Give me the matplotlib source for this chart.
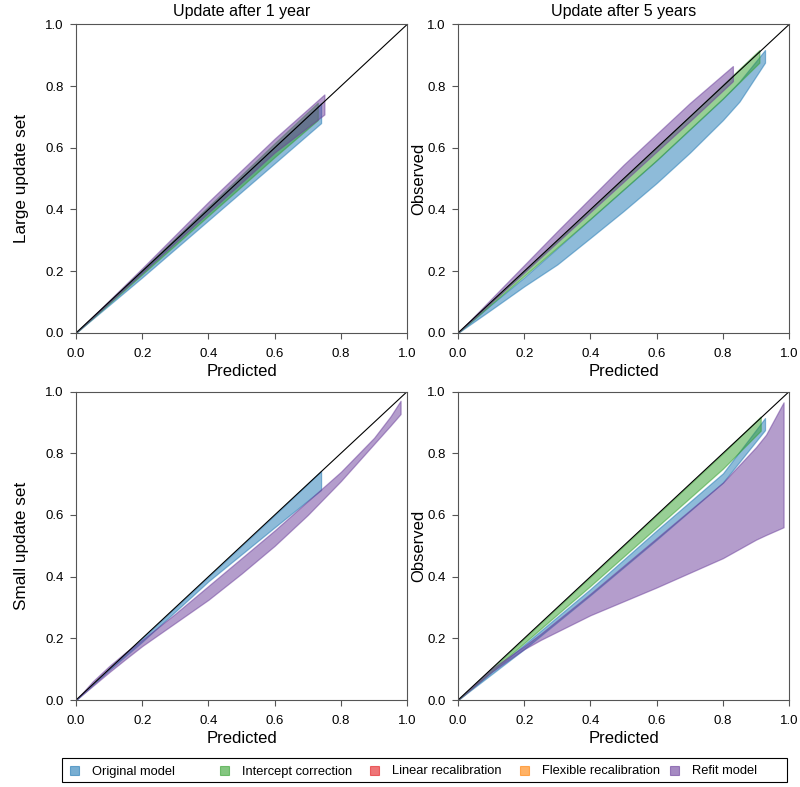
import matplotlib
matplotlib.use("Agg")
import matplotlib.pyplot as plt
from matplotlib.patches import Rectangle

plt.rcParams['font.family'] = ['Liberation Sans', 'DejaVu Sans']

# Large update set, update after 1 year
L1_orig_x = [0, 0.2, 0.4, 0.6, 0.74]
L1_orig_lo = [0, 0.18, 0.365, 0.55, 0.68]
L1_orig_hi = [0, 0.2, 0.405, 0.605, 0.745]
L1_int_x = [0, 0.2, 0.4, 0.6, 0.73]
L1_int_lo = [0, 0.19, 0.38, 0.57, 0.69]
L1_int_hi = [0, 0.205, 0.41, 0.615, 0.746]
L1_refit_x = [0, 0.2, 0.4, 0.6, 0.75]
L1_refit_lo = [0, 0.195, 0.39, 0.585, 0.708]
L1_refit_hi = [0, 0.21, 0.425, 0.63, 0.773]

# Large update set, update after 5 years
L5_orig_x = [0, 0.1, 0.2, 0.3, 0.4, 0.5, 0.6, 0.7, 0.8, 0.85, 0.927]
L5_orig_lo = [0, 0.075, 0.151, 0.222, 0.308, 0.395, 0.486, 0.584, 0.69, 0.75, 0.876]
L5_orig_hi = [0, 0.092, 0.18, 0.275, 0.37, 0.465, 0.56, 0.66, 0.76, 0.815, 0.917]
L5_int_x = [0, 0.2, 0.4, 0.6, 0.8, 0.91]
L5_int_lo = [0, 0.185, 0.37, 0.56, 0.76, 0.876]
L5_int_hi = [0, 0.2, 0.4, 0.6, 0.805, 0.917]
L5_refit_x = [0, 0.1, 0.3, 0.5, 0.7, 0.83]
L5_refit_lo = [0, 0.098, 0.294, 0.49, 0.686, 0.816]
L5_refit_hi = [0, 0.11, 0.33, 0.545, 0.745, 0.865]

# Small update set, update after 1 year
S1_orig_x = [0, 0.1, 0.2, 0.4, 0.6, 0.74]
S1_orig_lo = [0, 0.097, 0.189, 0.385, 0.56, 0.681]
S1_orig_hi = [0, 0.1, 0.2, 0.4, 0.6, 0.742]
S1_refit_x = [0, 0.05, 0.1, 0.15, 0.2, 0.3, 0.4, 0.5, 0.6, 0.7, 0.8, 0.9, 0.95, 0.98]
S1_refit_lo = [0, 0.045, 0.09, 0.133, 0.175, 0.25, 0.325, 0.41, 0.50, 0.60, 0.71, 0.83, 0.89, 0.927]
S1_refit_hi = [0, 0.06, 0.11, 0.155, 0.195, 0.28, 0.37, 0.46, 0.55, 0.645, 0.74, 0.85, 0.92, 0.97]

# Small update set, update after 5 years
S5_orig_x = [0, 0.2, 0.4, 0.6, 0.8, 0.927]
S5_orig_lo = [0, 0.165, 0.34, 0.52, 0.705, 0.875]
S5_orig_hi = [0, 0.18, 0.36, 0.55, 0.735, 0.914]
S5_int_x = [0, 0.2, 0.4, 0.6, 0.8, 0.914]
S5_int_lo = [0, 0.185, 0.37, 0.56, 0.75, 0.873]
S5_int_hi = [0, 0.2, 0.4, 0.6, 0.8, 0.919]
S5_refit_x = [0, 0.1, 0.2, 0.25, 0.4, 0.6, 0.8, 0.9, 0.93, 0.983]
S5_refit_lo = [0, 0.09, 0.165, 0.195, 0.275, 0.365, 0.46, 0.52, 0.535, 0.56]
S5_refit_hi = [0, 0.1, 0.175, 0.215, 0.345, 0.525, 0.705, 0.82, 0.86, 0.965]

methods = ["Original model", "Intercept correction", "Linear recalibration",
           "Flexible recalibration", "Refit model"]
colors = ["#1F78B4", "#33A02C", "#E31A1C", "#FF7F00", "#6A3D9A"]
col_titles = ["Update after 1 year", "Update after 5 years"]
row_titles = ["Large update set", "Small update set"]
ticks = [0, 0.2, 0.4, 0.6, 0.8, 1.0]

panels = [
    [[(L1_orig_x, L1_orig_lo, L1_orig_hi, 0), (L1_int_x, L1_int_lo, L1_int_hi, 1),
      (L1_refit_x, L1_refit_lo, L1_refit_hi, 4)],
     [(L5_orig_x, L5_orig_lo, L5_orig_hi, 0), (L5_int_x, L5_int_lo, L5_int_hi, 1),
      (L5_refit_x, L5_refit_lo, L5_refit_hi, 4)]],
    [[(S1_orig_x, S1_orig_lo, S1_orig_hi, 0), (S1_refit_x, S1_refit_lo, S1_refit_hi, 4)],
     [(S5_orig_x, S5_orig_lo, S5_orig_hi, 0), (S5_int_x, S5_int_lo, S5_int_hi, 1),
      (S5_refit_x, S5_refit_lo, S5_refit_hi, 4)]],
]

W, H = 800, 787
fig = plt.figure(figsize=(W / 100, H / 100), dpi=100)
lefts = [0.095, 0.5725]
bottoms = [0.577, 0.1105]
w, h = 0.414, 0.392

for r in range(2):
    for c in range(2):
        ax = fig.add_axes([lefts[c], bottoms[r], w, h])
        for x, lo, hi, k in panels[r][c]:
            ax.fill_between(x, lo, hi, facecolor=colors[k], alpha=0.5,
                            edgecolor=colors[k], linewidth=0.9)
        ax.plot([0, 1], [0, 1], color='black', linewidth=0.8)
        ax.set_xlim(0, 1)
        ax.set_ylim(0, 1)
        ax.set_xticks(ticks)
        ax.set_yticks(ticks)
        ax.set_xticklabels(["%.1f" % t for t in ticks])
        ax.set_yticklabels(["%.1f" % t for t in ticks])
        ax.tick_params(labelsize=9.5, length=4.2, color='#555555')
        ax.tick_params(axis='x', pad=6.5)
        ax.tick_params(axis='y', pad=4.5)
        for s in ax.spines.values():
            s.set_color('#555555')
        ax.set_xlabel("Predicted", fontsize=12, labelpad=3)
        if c == 1:
            ax.set_ylabel("Observed", fontsize=12, labelpad=0.5)
        if r == 0:
            ax.set_title(col_titles[c], fontsize=11.5, pad=6)
        if c == 0:
            fig.text(0.027, bottoms[r] + h / 2, row_titles[r], rotation=90,
                     ha='center', va='center', fontsize=12.3)

# legend: framed row of coloured squares below the panels
fig.add_artist(Rectangle((62 / W, 1 - 782 / H), (787 - 62) / W, 24 / H,
                         transform=fig.transFigure, fill=False,
                         edgecolor='black', linewidth=0.8))
for i, (name, cl) in enumerate(zip(methods, colors)):
    x0 = (70 + 150 * i) / W
    fig.add_artist(Rectangle((x0, 1 - 775 / H), 9 / W, 9 / H,
                             transform=fig.transFigure, facecolor=cl,
                             alpha=0.6, edgecolor=cl, linewidth=0.8))
    fig.text(x0 + 22 / W, 1 - 774.5 / H, name, fontsize=9.3,
             ha='left', va='baseline')

fig.savefig("out.png", dpi=100)
